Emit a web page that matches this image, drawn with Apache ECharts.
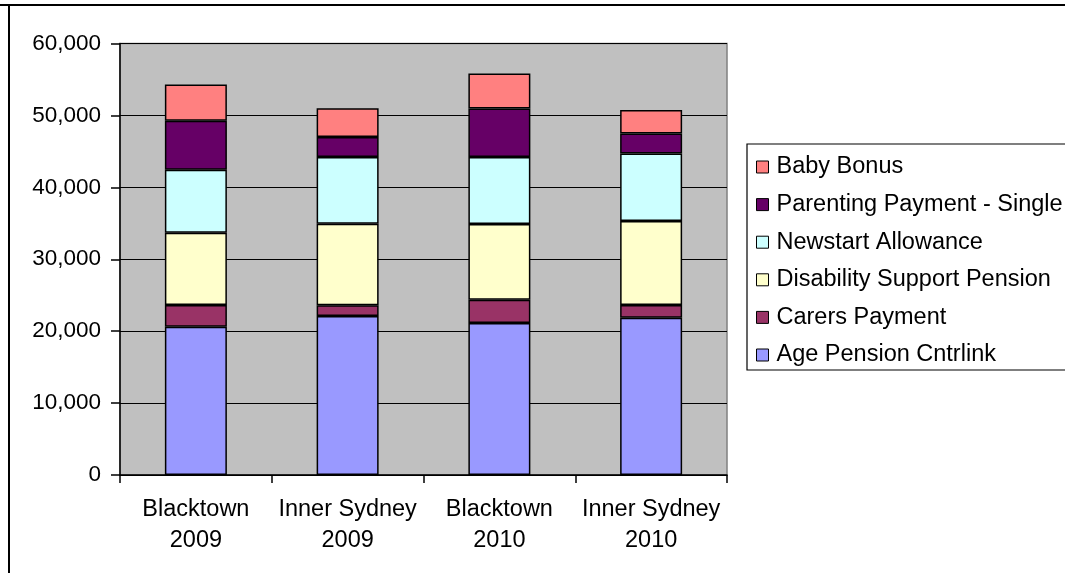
<!DOCTYPE html>
<html>
<head>
<meta charset="utf-8">
<script src="https://cdn.jsdelivr.net/npm/echarts@6/dist/echarts.min.js"></script>
<style>
  html, body { margin: 0; padding: 0; background: #ffffff; }
  #chart { width: 1065px; height: 573px; }
</style>
</head>
<body>
<div id="chart"></div>
<script>
// Categories (region / year), shown on two lines
const categories = ['Blacktown\n2009', 'Inner Sydney\n2009', 'Blacktown\n2010', 'Inner Sydney\n2010'];

// Recipients by payment type, stacked bottom to top
const agePension   = [20630, 22110, 21140, 21880];
const carersPay    = [3020, 1490, 3240, 1770];
const disability   = [10050, 11350, 10530, 11680];
const newstart     = [8760, 9280, 9320, 9360];
const parentingSgl = [6800, 2780, 6720, 2780];
const babyBonus    = [5050, 3990, 4870, 3300];

const seriesNames = [
  'Age Pension Cntrlink',
  'Carers Payment',
  'Disability Support Pension',
  'Newstart Allowance',
  'Parenting Payment - Single',
  'Baby Bonus'
];
const seriesData = [agePension, carersPay, disability, newstart, parentingSgl, babyBonus];
const seriesColors = ['#9999FF', '#993366', '#FFFFCC', '#CCFFFF', '#660066', '#FF8080'];

const FONT = "'Liberation Sans', Arial, sans-serif";

const chart = echarts.init(document.getElementById('chart'), null, { renderer: 'canvas' });

const fmt = v => String(v).replace(/\B(?=(\d{3})+(?!\d))/g, ',');

chart.setOption({
  backgroundColor: '#ffffff',
  animation: false,
  textStyle: { fontFamily: FONT },
  graphic: [
    { type: 'line', shape: { x1: 0, y1: 5, x2: 1065, y2: 5 }, style: { stroke: '#000', lineWidth: 2 }, z: 100 },
    { type: 'line', shape: { x1: 9, y1: 4, x2: 9, y2: 573 }, style: { stroke: '#000', lineWidth: 2 }, z: 100 }
  ],
  grid: {
    left: 120, right: 338, top: 43.5, bottom: 98,
    show: true, backgroundColor: '#C0C0C0', borderColor: '#808080', borderWidth: 1.5
  },
  legend: {
    orient: 'vertical',
    left: 747, top: 144,
    data: seriesNames.slice().reverse(),
    icon: 'rect',
    itemWidth: 12, itemHeight: 12,
    itemGap: 11.6,
    padding: [10, 20, 2, 9],
    borderColor: '#000', borderWidth: 1.2,
    backgroundColor: '#ffffff',
    textStyle: { fontFamily: FONT, fontSize: 23.5, color: '#000', lineHeight: 26, padding: [0, 0, 0, 3] },
    itemStyle: { borderColor: '#000', borderWidth: 1 }
  },
  xAxis: {
    type: 'category',
    data: categories,
    axisLine: { lineStyle: { color: '#000', width: 1.5 } },
    axisTick: { show: true, length: 8, lineStyle: { color: '#000', width: 1.5 } },
    axisLabel: { color: '#000', fontFamily: FONT, fontSize: 23.5, lineHeight: 31, margin: 19, interval: 0 }
  },
  yAxis: {
    type: 'value',
    min: 0, max: 60000, interval: 10000,
    axisLine: { show: true, lineStyle: { color: '#000', width: 1.5 } },
    axisTick: { show: true, length: 9, lineStyle: { color: '#000', width: 1.5 } },
    axisLabel: { color: '#000', fontFamily: FONT, fontSize: 22.5, margin: 19, formatter: fmt },
    splitLine: { show: true, lineStyle: { color: '#000', width: 1.2 } }
  },
  series: seriesNames.map((name, i) => ({
    name,
    type: 'bar',
    stack: 'total',
    barWidth: 62,
    data: seriesData[i],
    itemStyle: { color: seriesColors[i], borderColor: '#000', borderWidth: 1.5 }
  }))
});
</script>
</body>
</html>
